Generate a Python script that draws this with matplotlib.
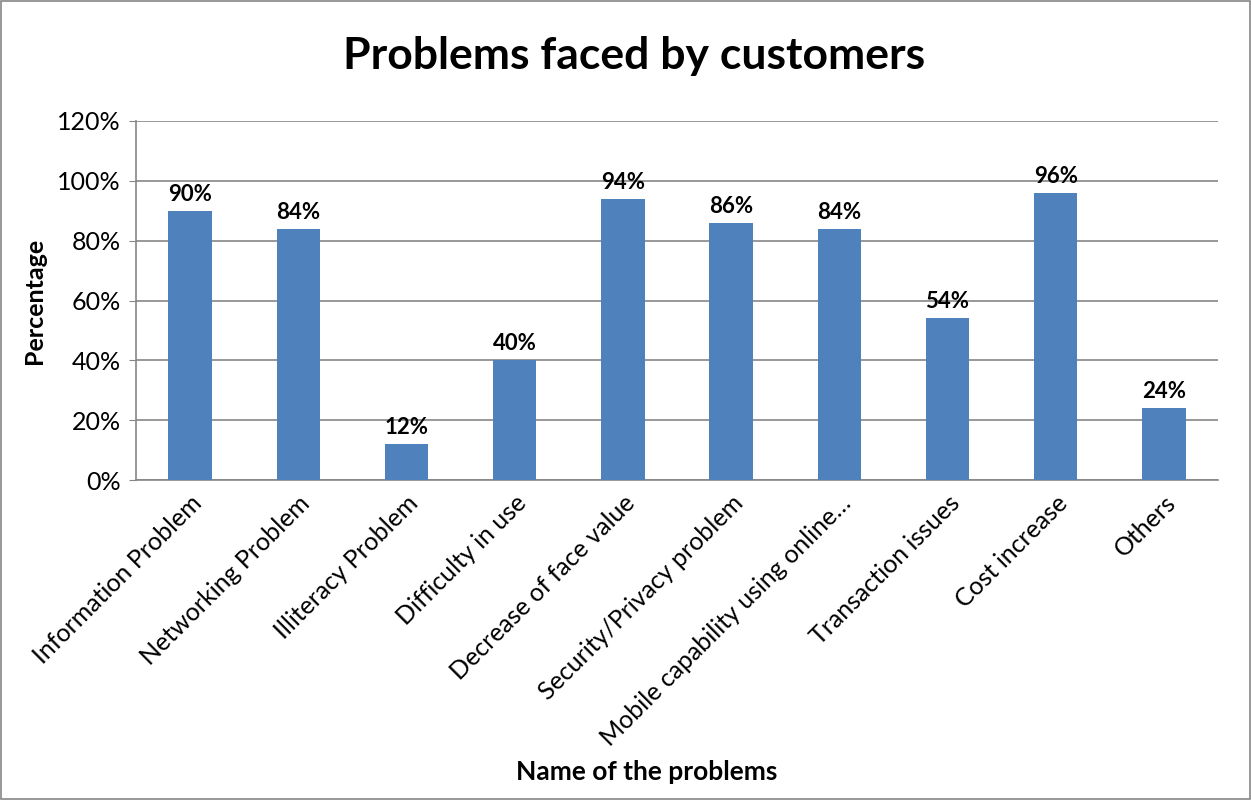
import matplotlib.pyplot as plt
from matplotlib.patches import Rectangle

plt.rcParams['font.family'] = ['Lato', 'DejaVu Sans']

problems = ['Information Problem', 'Networking Problem', 'Illiteracy Problem',
            'Difficulty in use', 'Decrease of face value', 'Security/Privacy problem',
            'Mobile capability using online…', 'Transaction issues', 'Cost increase', 'Others']
percent = [90, 84, 12, 40, 94, 86, 84, 54, 96, 24]
yticks = [0, 20, 40, 60, 80, 100, 120]

fig = plt.figure(figsize=(12.51, 8), dpi=100)
ax = fig.add_axes([136 / 1251, 1 - 480 / 800, (1218 - 136) / 1251, (480 - 121) / 800])

x = range(len(problems))
ax.bar(x, percent, width=0.4, color='#4f81bd', zorder=3)
for i, v in zip(x, percent):
    ax.text(i, v + 2, f'{v}%', ha='center', va='bottom', fontsize=16, fontweight='bold')

ax.set_xlim(-0.5, len(problems) - 0.5)
ax.set_ylim(0, 120)
ax.set_yticks(yticks)
ax.set_yticklabels([f'{t}%' for t in yticks], fontsize=18)
ax.yaxis.grid(True, color='#868686', linewidth=1.2, zorder=0)
ax.set_xticks(list(x))
ax.set_xticklabels(problems, rotation=45, ha='right', rotation_mode='anchor', fontsize=18)
ax.tick_params(axis='x', length=0, pad=8)
ax.tick_params(axis='y', length=5, color='#868686', pad=6)
for s in ['top', 'right']:
    ax.spines[s].set_visible(False)
for s in ['left', 'bottom']:
    ax.spines[s].set_color('#868686')
    ax.spines[s].set_linewidth(1.2)

ax.set_ylabel('Percentage', fontsize=18, fontweight='bold', labelpad=8)
fig.text(0.517, 0.035, 'Name of the problems', ha='center', va='center',
         fontsize=19, fontweight='bold')
fig.text(0.507, 0.93, 'Problems faced by customers', ha='center', va='center',
         fontsize=32, fontweight='bold')

fig.patches.append(Rectangle((0.001, 0.001), 0.998, 0.998, transform=fig.transFigure,
                             fill=False, edgecolor='#868686', linewidth=1.2))

fig.savefig('out.png', dpi=100)
